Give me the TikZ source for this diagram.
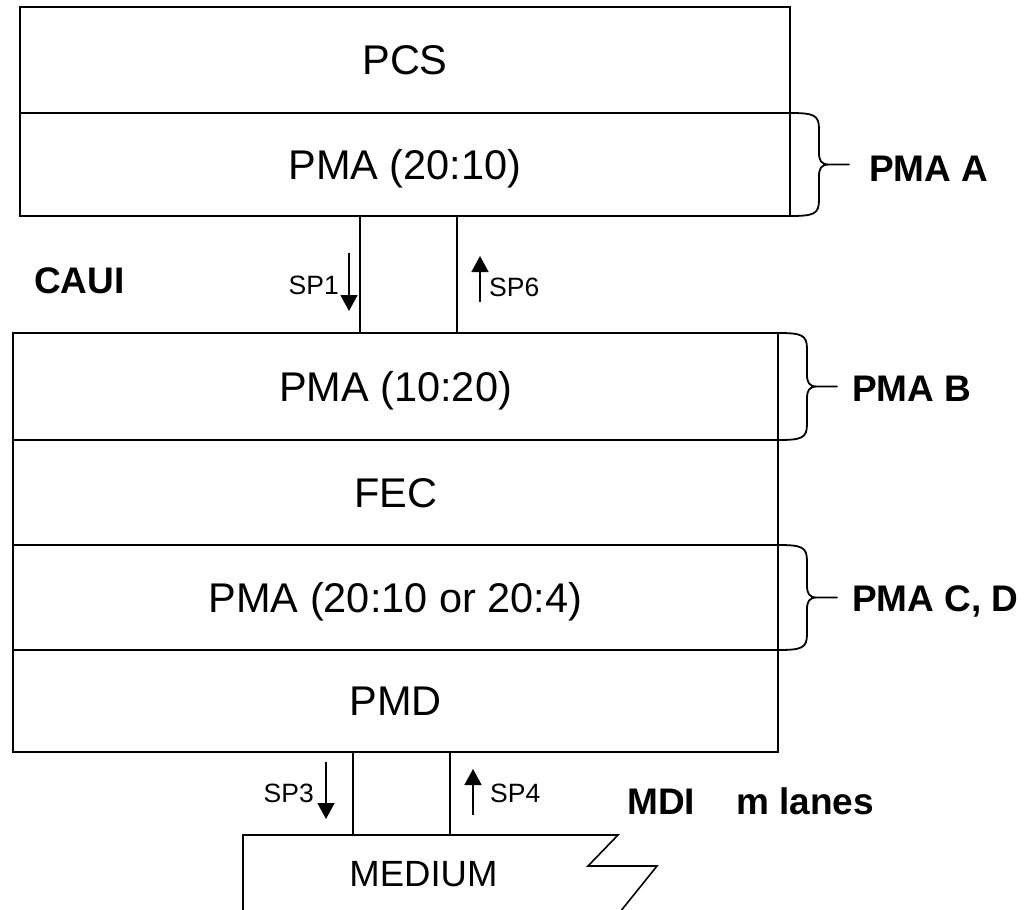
\documentclass[tikz,border=0pt]{standalone}
\usepackage{fontspec}
\setmainfont{Liberation Sans}
\usetikzlibrary{arrows.meta}

% Curly side brace: #1 = top corner, #2 = height of the bracketed layer
\newcommand\sidebrace[2]{%
  \draw[bracestyle] (#1)
    .. controls +(24,0) and +(0,-14) .. ++(29,16)
    -- ++(0,{#2/2-28})
    .. controls +(0,8) and +(-8,0) .. ++(10,12)
    -- ++(20,0)
    -- ++(-20,0)
    .. controls +(-8,0) and +(0,-8) .. ++(-10,12)
    -- ++(0,{#2/2-28})
    .. controls +(0,14) and +(24,0) .. ++(-29,16);%
}

\tikzset{
  layer/.style={draw, line width=1.6pt, inner sep=0pt, outer sep=0pt,
    font=\fontsize{41.5}{48}\selectfont, text height=29.7pt, text depth=0pt},
  linkbox/.style={draw, line width=1.6pt, inner sep=0pt, outer sep=0pt},
  bracestyle/.style={line width=1.8pt, line join=round},
  boldlabel/.style={inner sep=0pt, font=\bfseries\fontsize{37}{42}\selectfont,
    text height=26.5pt, text depth=0pt},
  smalllabel/.style={inner sep=0pt, font=\fontsize{26.5}{30}\selectfont,
    text height=19pt, text depth=0pt},
  sparrow/.style={line width=1.6pt, -{Triangle[length=16pt,width=17pt]}},
}

\begin{document}
\begin{tikzpicture}[x=1pt,y=-1pt]
  \useasboundingbox (0,0) rectangle (1028,910);

  % upper stack
  \node[layer, minimum width=770pt, minimum height=106pt] (pcs) at (405,60) {PCS};
  \node[layer, minimum width=770pt, minimum height=103pt] (pmaA) at (405,164.5) {PMA (20:10)};

  % CAUI link
  \node[linkbox, minimum width=97pt, minimum height=117pt] (cauilink) at (408.5,274.5) {};

  % lower stack
  \node[layer, minimum width=765pt, minimum height=107pt] (pmaB) at (395.5,386.5) {PMA (10:20)};
  \node[layer, minimum width=765pt, minimum height=105pt] (fec) at (395.5,492.5) {FEC};
  \node[layer, minimum width=765pt, minimum height=105pt] (pmaC) at (395.5,597.5) {PMA (20:10 or 20:4)};
  \node[layer, minimum width=765pt, minimum height=102pt] (pmd) at (395.5,701) {PMD};

  % MDI link
  \node[linkbox, minimum width=97pt, minimum height=83pt] (mdilink) at (401.5,793.5) {};

  % medium with broken-off edge
  \draw[line width=1.6pt, line join=miter]
    (243,912) -- (243,835) -- (618,835) -- (588,866) -- (657,866) -- (620,912);
  \node[inner sep=0pt, font=\fontsize{36.5}{42}\selectfont, text height=26.2pt, text depth=0pt]
    (medium) at (423.5,873) {MEDIUM};

  % braces and their labels
  \sidebrace{pmaA.north east}{103}
  \sidebrace{pmaB.north east}{107}
  \sidebrace{pmaC.north east}{105}
  \node[boldlabel, anchor=west] (lblA) at (869,168) {PMA A};
  \node[boldlabel, anchor=west] (lblB) at (852,388) {PMA B};
  \node[boldlabel, anchor=west] (lblC) at (852,598) {PMA C, D};

  % interface labels
  \node[boldlabel, anchor=west] (cauilabel) at (34,280) {CAUI};
  \node[boldlabel, anchor=west] (mdilabel) at (627,801) {MDI};
  \node[boldlabel, anchor=west] (laneslabel) at (736,801) {m lanes};

  % signal direction arrows
  \coordinate (sp1top) at (349,253);
  \coordinate (sp1bot) at (349,311);
  \coordinate (sp6top) at (480,256);
  \coordinate (sp6bot) at (480,302);
  \coordinate (sp3top) at (326,762);
  \coordinate (sp3bot) at (326,819);
  \coordinate (sp4top) at (473,769);
  \coordinate (sp4bot) at (473,815);
  \draw[sparrow] (sp1top) -- (sp1bot);
  \draw[sparrow] (sp6bot) -- (sp6top);
  \draw[sparrow] (sp3top) -- (sp3bot);
  \draw[sparrow] (sp4bot) -- (sp4top);

  \node[smalllabel, anchor=east] (sp1) at (339,285) {SP1};
  \node[smalllabel, anchor=west] (sp6) at (489,287) {SP6};
  \node[smalllabel, anchor=east] (sp3) at (314,793) {SP3};
  \node[smalllabel, anchor=west] (sp4) at (490,793) {SP4};
\end{tikzpicture}
\end{document}
